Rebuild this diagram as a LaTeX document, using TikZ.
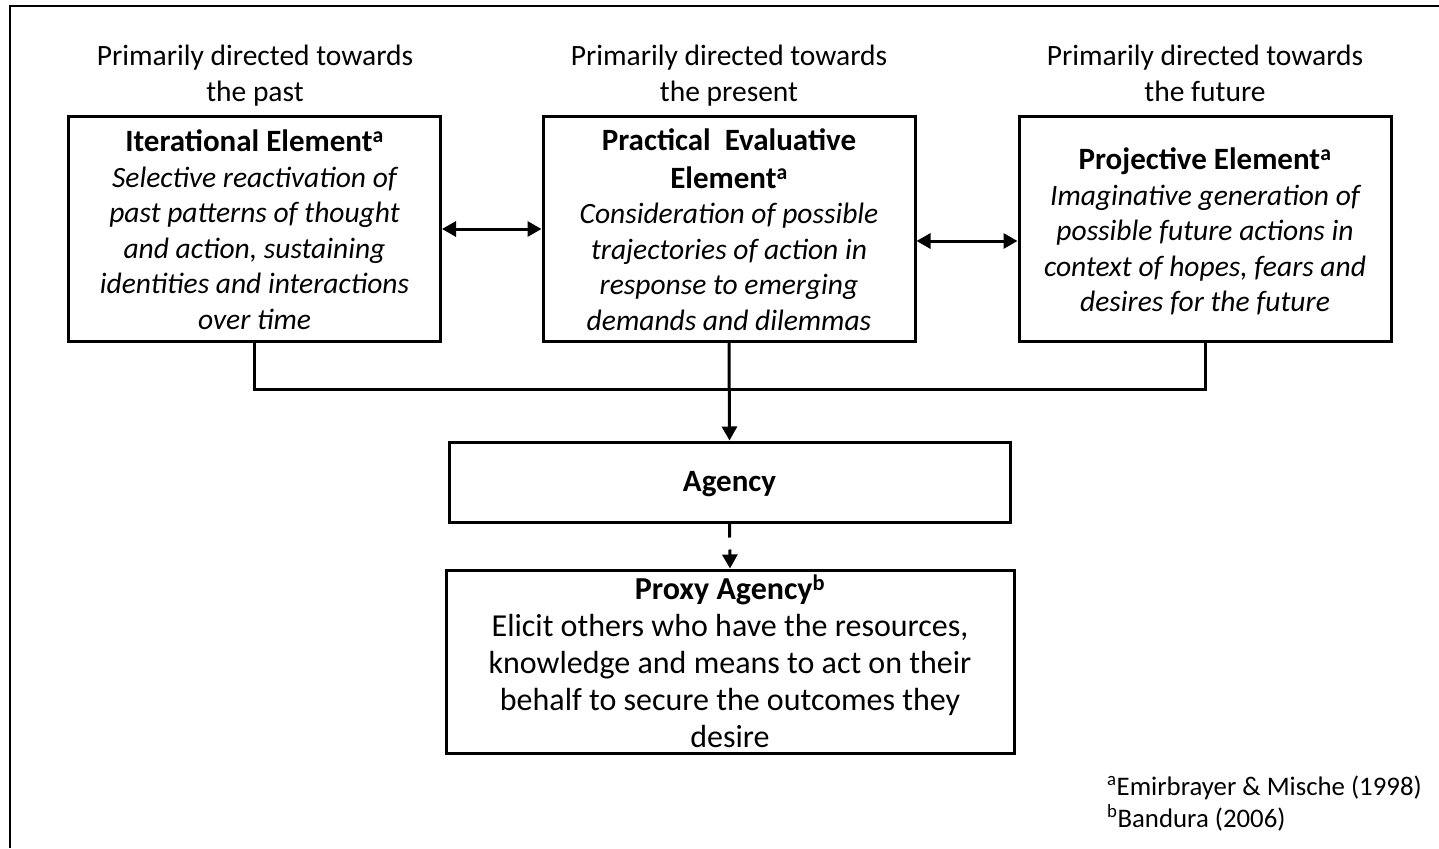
\documentclass[tikz,border=0pt]{standalone}
\usepackage{fontspec}
\setmainfont{Carlito}
\usetikzlibrary{arrows.meta}
\newcommand{\ttl}[1]{{\fontsize{31}{35.5}\selectfont\bfseries\strut #1}}
\newcommand{\topstrut}[1]{\rule{0pt}{#1}}
\tikzset{
  elembox/.style={draw, line width=3pt, minimum width=372pt, minimum height=224pt, align=center, inner sep=0pt, font=\fontsize{29.5}{35.5}\selectfont},
  lbl/.style={align=center, inner sep=0pt, font=\fontsize{29.5}{36}\selectfont},
  fnote/.style={anchor=base west, inner sep=0pt, font=\fontsize{26.8}{32}\selectfont},
  conn/.style={line width=3pt},
  tip/.style={-{Triangle[length=14pt,width=15pt]}},
  dtip/.style={{Triangle[length=14pt,width=15pt]}-{Triangle[length=14pt,width=15pt]}},
}
\begin{document}
\begin{tikzpicture}[x=1pt,y=-1pt]
\useasboundingbox (0,0) rectangle (1439,848);
\draw[line width=2.5pt] (1439,6) -- (10,6) -- (10,848);
% top labels
\node[lbl] (l1) at (255,76) {\strut Primarily directed towards\\the past\strut};
\node[lbl] (l2) at (729,76) {\strut Primarily directed towards\\the present\strut};
\node[lbl] (l3) at (1205,76) {\strut Primarily directed towards\\the future\strut};
% boxes
\node[elembox] (b1) at (254.5,229) {\topstrut{34pt}\ttl{Iterational Element\textsuperscript{a}}\\\itshape Selective reactivation of\\\itshape past patterns of thought\\\itshape and action, sustaining\\\itshape identities and interactions\\\itshape over time\strut};
\node[elembox] (b2) at (729,229) {\topstrut{34pt}\ttl{Practical\ \ Evaluative}\\[2pt]\ttl{Element\textsuperscript{a}}\\\itshape Consideration of possible\\\itshape trajectories of action in\\\itshape response to emerging\\\itshape demands and dilemmas\strut};
\node[elembox] (b3) at (1205,229) {\topstrut{34pt}\ttl{Projective Element\textsuperscript{a}}\\\itshape Imaginative generation of\\\itshape possible future actions in\\\itshape context of hopes, fears and\\\itshape desires for the future\strut};
\node[draw, line width=3pt, minimum width=561pt, minimum height=80pt, inner sep=0pt, text height=26pt, text depth=7pt, font=\fontsize{31}{36}\selectfont\bfseries] (ag) at (729.5,482) {Agency};
\node[draw, line width=3pt, minimum width=568pt, minimum height=183pt, inner sep=0pt] (px) at (730,661.5) {};
\node[align=center, inner sep=0pt, font=\fontsize{32}{37}\selectfont] (pxt) at ([yshift=-5pt]px.center) {\textbf{\strut Proxy Agency\textsuperscript{b}}\\Elicit others who have the resources,\\knowledge and means to act on their\\behalf to secure the outcomes they\\desire\strut};
% footnotes
\node[fnote] (fn1) at (1107,795) {\textsuperscript{a}Emirbrayer \& Mische (1998)};
\node[fnote] (fn2) at (1107,827) {\textsuperscript{b}Bandura (2006)};
% connectors
\coordinate (hl) at (0,389);
\draw[conn] (b1.south) -- (b1.south |- hl) -| (b3.south);
\draw[conn,tip] (b2.south) -- (ag.north);
\draw[conn,tip,dash pattern=on 14pt off 12pt] (ag.south) -- (px.north);
\draw[conn,dtip] (b1.east) -- (b2.west);
\draw[conn,dtip] ([yshift=-12pt]b2.east) -- ([yshift=-12pt]b3.west);
\end{tikzpicture}
\end{document}
